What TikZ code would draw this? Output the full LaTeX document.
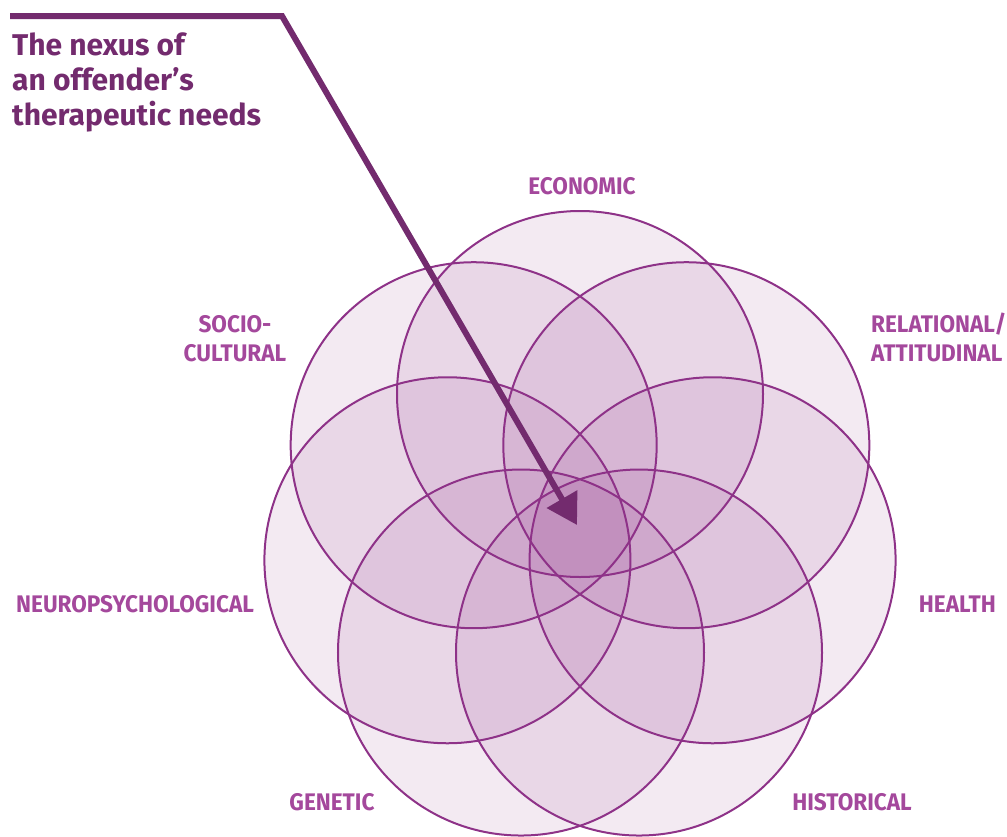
\documentclass[tikz,border=0pt]{standalone}
\usepackage{fontspec}
\setmainfont{Fira Sans}
\newfontfamily\labfont[FakeStretch=0.94]{Fira Sans}
\usetikzlibrary{arrows.meta}
\definecolor{darkpurple}{RGB}{115,43,110}
\definecolor{labpurple}{RGB}{164,72,156}
\definecolor{ringpurple}{RGB}{142,50,136}
\definecolor{fillpurple}{RGB}{139,45,132}
\tikzset{
  ring/.style={circle, minimum size=366pt, inner sep=0pt},
  ringfill/.style={fill=fillpurple, fill opacity=0.1},
  ringline/.style={draw=ringpurple, line width=2pt},
  lab/.style={text=labpurple, font=\labfont\bfseries\fontsize{24}{29}\selectfont, inner sep=0pt, align=center},
  titlestyle/.style={text=darkpurple, font=\bfseries\fontsize{30}{35}\selectfont, inner sep=0pt, align=left, anchor=north west},
  pointer/.style={draw=darkpurple, line width=6pt, -{Triangle[length=30pt, width=34pt]}}
}
\begin{document}
\begin{tikzpicture}[x=1pt, y=-1pt]
\useasboundingbox (0,0) rectangle (1007,836);
% circle centres: hub (580,530), R=136
\foreach \n/\a in {eco/90, rel/38.571, hea/-12.857, his/-64.286, gen/-115.714, neu/-167.143, soc/141.429}{
  \coordinate (c\n) at ({580+136*cos(\a)}, {530-136*sin(\a)});
}
\foreach \n in {eco, rel, hea, his, gen, neu, soc}{
  \node[ring, ringfill] (f\n) at (c\n) {};
}
\foreach \n in {eco, rel, hea, his, gen, neu, soc}{
  \node[ring, ringline] (r\n) at (c\n) {};
}
% labels
\node[lab] (leco) at (582,186) {ECONOMIC};
\node[lab, align=center] (lsoc) at (235,339) {SOCIO-\\CULTURAL};
\node[lab, align=left, anchor=west] (lrel) at (871,337) {RELATIONAL/\\ATTITUDINAL};
\node[lab, anchor=west] (lneu) at (16,604) {NEUROPSYCHOLOGICAL};
\node[lab, anchor=east] (lhea) at (996,604) {HEALTH};
\node[lab] (lgen) at (332,802) {GENETIC};
\node[lab] (lhis) at (852,802) {HISTORICAL};
% title and pointer
\node[titlestyle] (title) at (12,33) {The nexus of\\an offender’s\\therapeutic needs};
\coordinate (pstart) at (10,16);
\coordinate (pbend) at (282,16);
\coordinate (ptip) at (577,525);
\draw[pointer] (pstart) -- (pbend) -- (ptip);
\end{tikzpicture}
\end{document}
